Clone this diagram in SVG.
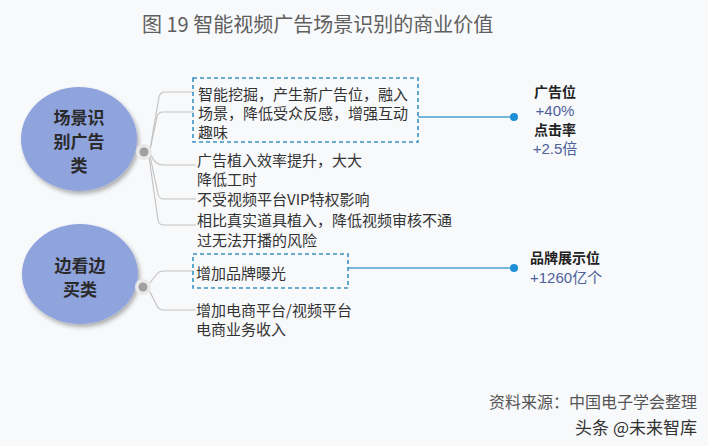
<svg xmlns="http://www.w3.org/2000/svg" width="708" height="446" viewBox="0 0 708 446">
<defs>
<filter id="sh" x="-20%" y="-20%" width="150%" height="150%">
<feDropShadow dx="2" dy="3" stdDeviation="2" flood-color="#000" flood-opacity="0.3"/>
</filter>
<style>
text{font-family:"Noto Sans CJK SC","Noto Sans",sans-serif;dominant-baseline:central}
.title{font-size:20px;fill:#5f5f5f}
.node{fill:#8fa3dd;filter:url(#sh)}
.nt{font-size:17px;font-weight:bold;fill:#2a2a2a;text-anchor:middle}
.it{font-size:15px;fill:#333}
.box{fill:none;stroke:#3b93c2;stroke-width:1.6;stroke-dasharray:4 3}
.br{fill:none;stroke:#c4c4c4;stroke-width:1.2}
.cl{fill:none;stroke:#4aa0d4;stroke-width:1.6}
.cd{fill:#1e8fd6}
.halo{fill:#e9e9e9}
.hd{fill:#a0a0a0}
.lab{font-size:14px;font-weight:bold;fill:#222}
.val{font-family:"Liberation Sans","Noto Sans CJK SC",sans-serif;font-size:15px;fill:#4e619a}
.foot{font-size:16px;fill:#555;text-anchor:end}
.wm{font-size:17px;fill:#333;text-anchor:end}
</style>
</defs>
<rect width="708" height="446" fill="#f8f9fb"/>
<text class="title" x="142" y="23">图 19 智能视频广告场景识别的商业价值</text>

<g id="connectors">
<path class="br" d="M150,149 L159,97 Q160,92 165,92 L194,92"/>
<path class="br" d="M150,150 L157,117 Q158,112 163,112 L194,112"/>
<path class="br" d="M151,155 Q155,165 163,165 L196,165"/>
<path class="br" d="M150,156 L158,194 Q159,199 164,199 L196,199"/>
<path class="br" d="M149,157 L158,220 Q159,225 164,225 L196,225"/>
<path class="br" d="M149,284 L157,274 Q159,271 164,271 L194,271"/>
<path class="br" d="M149,290 L157,306 Q159,310 164,310 L196,310"/>
<path class="cl" d="M418,117 L514,117"/>
<circle class="cd" cx="514" cy="117" r="4"/>
<path class="cl" d="M348,268 L514,268"/>
<circle class="cd" cx="514" cy="268" r="4"/>
</g>

<g id="node-scene">
<ellipse class="node" cx="79" cy="139" rx="58" ry="52"/>
<text class="nt" x="79" y="116">场景识</text>
<text class="nt" x="79" y="140">别广告</text>
<text class="nt" x="79" y="164">类</text>
<circle class="halo" cx="144" cy="152" r="8"/>
<circle class="hd" cx="144" cy="152" r="4.5"/>
</g>

<g id="node-shop">
<ellipse class="node" cx="80" cy="274" rx="58" ry="50"/>
<text class="nt" x="80" y="264">边看边</text>
<text class="nt" x="80" y="288">买类</text>
<circle class="halo" cx="143" cy="287" r="8"/>
<circle class="hd" cx="143" cy="287" r="4.5"/>
</g>

<g id="item-box1">
<rect class="box" x="193" y="78" width="225" height="64"/>
<text class="it" x="198" y="93">智能挖掘，产生新广告位，融入</text>
<text class="it" x="198" y="112">场景，降低受众反感，增强互动</text>
<text class="it" x="198" y="131">趣味</text>
</g>

<g id="item-efficiency">
<text class="it" x="197" y="159">广告植入效率提升，大大</text>
<text class="it" x="197" y="178">降低工时</text>
</g>

<g id="item-vip">
<text class="it" x="197" y="198">不受视频平台VIP特权影响</text>
</g>

<g id="item-risk">
<text class="it" x="197" y="219">相比真实道具植入，降低视频审核不通</text>
<text class="it" x="197" y="239">过无法开播的风险</text>
</g>

<g id="item-box2">
<rect class="box" x="193" y="254" width="155" height="34"/>
<text class="it" x="196" y="272">增加品牌曝光</text>
</g>

<g id="item-ecom">
<text class="it" x="196" y="309">增加电商平台/视频平台</text>
<text class="it" x="196" y="328">电商业务收入</text>
</g>

<g id="result-ad">
<text class="lab" x="555" y="91" text-anchor="middle">广告位</text>
<text class="val" x="555" y="110" text-anchor="middle">+40%</text>
<text class="lab" x="555" y="129" text-anchor="middle">点击率</text>
<text class="val" x="555" y="148" text-anchor="middle">+2.5倍</text>
</g>

<g id="result-brand">
<text class="lab" x="530" y="257">品牌展示位</text>
<text class="val" x="530" y="277">+1260亿个</text>
</g>

<text class="foot" x="697" y="401">资料来源：中国电子学会整理</text>
<text class="wm" x="697" y="426">头条 @未来智库</text>
</svg>
